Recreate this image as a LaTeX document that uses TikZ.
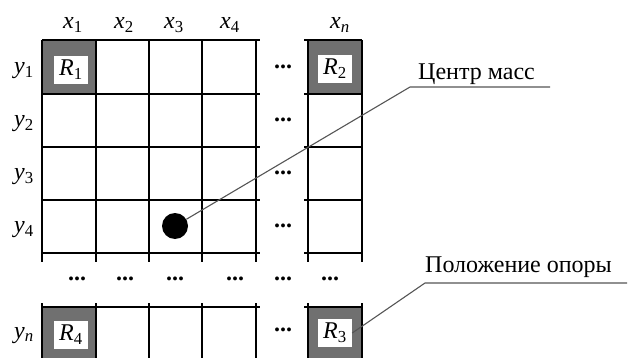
\documentclass[tikz,border=0pt]{standalone}
\usepackage{fontspec}
\setmainfont{Liberation Serif}
\usetikzlibrary{positioning}
\definecolor{cellgray}{RGB}{112,112,112}
\definecolor{leadergray}{RGB}{85,85,85}
\newcommand{\idx}[2]{\textit{#1}\textsubscript{#2}}
\tikzset{
  gridline/.style={line width=2.4pt, black},
  leader/.style={leadergray, line width=1.1pt},
  corner/.style={fill=white, inner sep=0pt, minimum width=34pt, minimum height=28pt},
  axislabel/.style={anchor=base, inner sep=0pt},
  gapdots/.style={font=\fontsize{24}{28}\selectfont\bfseries, inner sep=0pt},
}

\begin{document}
\begin{tikzpicture}[x=1pt, y=-1pt, font=\fontsize{24}{28}\selectfont]
    \useasboundingbox (0,0) rectangle (634,358);

    % shaded support cells
    \fill[cellgray] (42,40) rectangle (96,94);
    \fill[cellgray] (308,40) rectangle (362,94);
    \fill[cellgray] (42,307) rectangle (96,358);
    \fill[cellgray] (308,307) rectangle (362,358);

    % grid, upper part
    \foreach \gx in {42,96,149,202,256,308,362}
        \draw[gridline] (\gx,40) -- (\gx,262);
    \foreach \gy in {40,94,147,200,253} {
        \draw[gridline] (42,\gy) -- (260,\gy);
        \draw[gridline] (304,\gy) -- (362,\gy);
    }
    % grid, last row
    \foreach \gx in {42,96,149,202,256,308,362}
        \draw[gridline] (\gx,303) -- (\gx,358);
    \draw[gridline] (42,307) -- (260,307);
    \draw[gridline] (304,307) -- (362,307);

    % axis labels
    \node[axislabel] (x1) at (73,29) {\idx{x}{1}};
    \node[axislabel] (x2) at (124,29) {\idx{x}{2}};
    \node[axislabel] (x3) at (174,29) {\idx{x}{3}};
    \node[axislabel] (x4) at (230,29) {\idx{x}{4}};
    \node[axislabel] (xn) at (340,29) {\idx{x}{\textit{n}}};
    \node[axislabel] (y1) at (24,74) {\idx{y}{1}};
    \node[axislabel] (y2) at (24,127) {\idx{y}{2}};
    \node[axislabel] (y3) at (24,180) {\idx{y}{3}};
    \node[axislabel] (y4) at (24,233) {\idx{y}{4}};
    \node[axislabel] (yn) at (24,338) {\idx{y}{\textit{n}}};

    % skipped columns and rows
    \foreach \gy [count=\i] in {67,120,173,226,330}
        \node[gapdots] (colgap\i) at (283,\gy) {...};
    \foreach \gx [count=\i] in {77,125,175,235,283,330}
        \node[gapdots] (rowgap\i) at (\gx,279) {...};

    % support labels
    \node[corner] (R1) at (71,70) {\idx{R}{1}};
    \node[corner] (R2) at (335,69) {\idx{R}{2}};
    \node[corner] (R3) at (335,333) {\idx{R}{3}};
    \node[corner] (R4) at (71,335) {\idx{R}{4}};

    % centre of mass
    \node[circle, fill=black, minimum size=26pt, inner sep=0pt] (cm) at (175,226) {};

    % leaders
    \coordinate (cmknee) at (410,87);
    \coordinate (cmend) at (550,87);
    \draw[leader] (cm) -- (cmknee) -- (cmend);
    \node[anchor=base west, inner sep=0pt] (cmtext) at (418,80) {Центр масс};

    \coordinate (supknee) at (425,283);
    \coordinate (supend) at (627,283);
    \draw[leader] (R3.east) -- (supknee) -- (supend);
    \node[anchor=base west, inner sep=0pt] (suptext) at (425,272) {Положение опоры};
\end{tikzpicture}
\end{document}
